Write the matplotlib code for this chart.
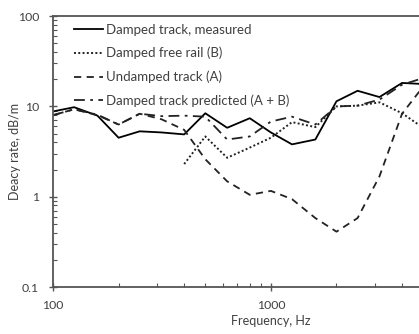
import numpy as np
import matplotlib
matplotlib.use('Agg')
import matplotlib.pyplot as plt
from matplotlib.ticker import LogLocator, FixedLocator, FixedFormatter, NullFormatter

freq = [100, 125, 160, 200, 250, 315, 400, 500, 630, 800, 1000,
        1250, 1600, 2000, 2500, 3150, 4000, 5000]

measured = [8.8, 9.8, 7.9, 4.5, 5.3, 5.15, 4.9, 8.4, 5.8, 7.4, 5.15,
            3.8, 4.3, 11.4, 14.9, 12.7, 18.2, 17.7]

freq_b = [400, 500, 630, 800, 1000, 1250, 1600, 2000, 2500, 3150, 4000, 5000]
free_rail = [2.3, 4.65, 2.7, 3.5, 4.5, 6.7, 5.9, 10.0, 10.2, 11.1, 8.4, 5.8]

undamped = [8.0, 9.3, 8.0, 6.3, 8.3, 7.2, 5.5, 2.6, 1.48, 1.05, 1.16,
            0.94, 0.58, 0.41, 0.58, 1.68, 8.3, 16.6]

predicted = [8.0, 9.3, 8.1, 6.3, 8.3, 7.8, 7.9, 7.7, 4.3, 4.65, 6.8,
             7.7, 6.3, 10.0, 10.2, 11.9, 17.4, 20.6]

x_ticks = [100, 1000]
y_ticks = [0.1, 1, 10, 100]

txt = '#404040'
plt.rcParams['font.family'] = ['Lato', 'DejaVu Sans']

fig = plt.figure(figsize=(4.19, 3.34), dpi=100)
ax = fig.add_axes([0.1265, 0.1407, 1.04, 0.811])

ax.plot(freq, measured, color='black', lw=1.3, label='Damped track, measured')
ax.plot(freq_b, free_rail, color='#222222', lw=1.4, linestyle=(0, (1, 1.2)),
        label='Damped free rail (B)')
ax.plot(freq, undamped, color='#222222', lw=1.3, linestyle=(0, (4, 3)),
        label='Undamped track (A)')
ax.plot(freq, predicted, color='#222222', lw=1.3, linestyle=(0, (6, 3, 1.5, 3)),
        label='Damped track predicted (A + B)')

ax.set_xscale('log')
ax.set_yscale('log')
ax.set_xlim(100, 10000)
ax.set_ylim(0.1, 100)

ax.xaxis.set_major_locator(FixedLocator(x_ticks))
ax.xaxis.set_major_formatter(FixedFormatter([str(v) for v in x_ticks]))
ax.xaxis.set_minor_locator(LogLocator(base=10, subs=np.arange(2, 10)))
ax.xaxis.set_minor_formatter(NullFormatter())
ax.yaxis.set_major_locator(FixedLocator(y_ticks))
ax.yaxis.set_major_formatter(FixedFormatter(['0.1', '1', '10', '100']))
ax.yaxis.set_minor_locator(LogLocator(base=10, subs=np.arange(2, 10)))
ax.yaxis.set_minor_formatter(NullFormatter())

ax.tick_params(which='major', direction='inout', length=6, width=1, colors='#555555',
               labelcolor=txt, labelsize=8.8)
ax.tick_params(which='minor', direction='in', length=3, width=0.8, colors='#555555')
ax.tick_params(axis='x', pad=6)
ax.tick_params(axis='y', pad=7)

for s in ax.spines.values():
    s.set_color('#555555')
    s.set_linewidth(1.3)

ax.set_xlabel('Frequency, Hz', color=txt, fontsize=9, labelpad=3)
ax.set_ylabel('Deacy rate, dB/m', color=txt, fontsize=9)
ax.yaxis.set_label_coords(-0.073, 0.5)

leg = ax.legend(loc='upper left', bbox_to_anchor=(0.163, 0.945), bbox_transform=fig.transFigure,
                frameon=False, fontsize=9.5, handlelength=2.2, handletextpad=0.25,
                labelspacing=0.85, borderaxespad=0)
for t in leg.get_texts():
    t.set_color(txt)

fig.savefig('out.png', dpi=100)
